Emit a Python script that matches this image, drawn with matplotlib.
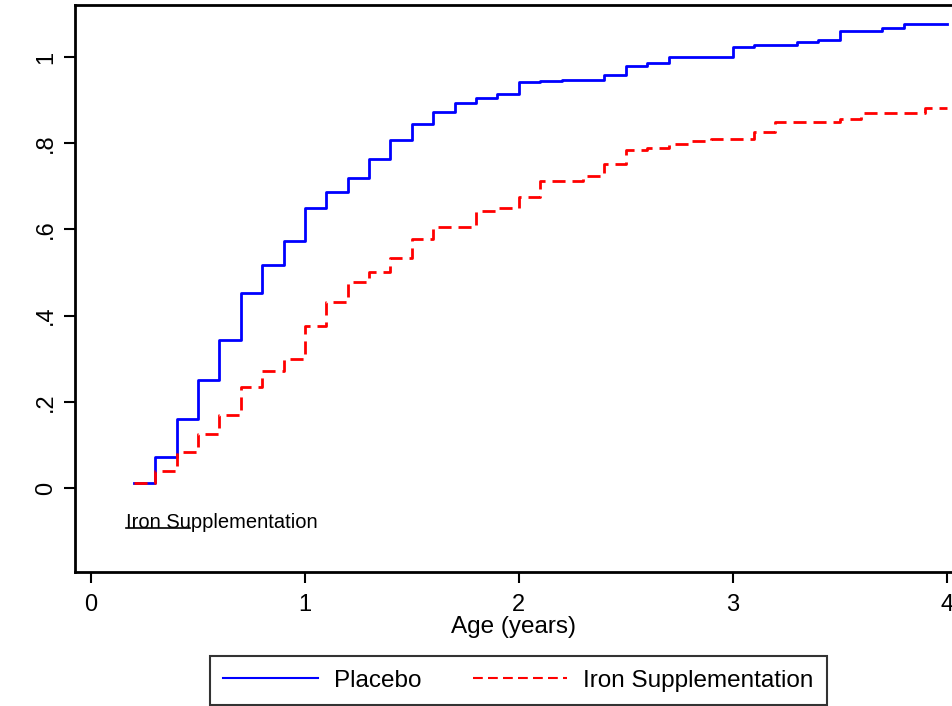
import matplotlib
matplotlib.use("Agg")
import matplotlib.pyplot as plt
from matplotlib import rcParams

rcParams['font.family'] = ['Liberation Sans', 'DejaVu Sans']

# Stepwise cumulative curves
placebo_t = [0.2, 0.3, 0.4, 0.5, 0.6, 0.7, 0.8, 0.9, 1.0, 1.1, 1.2, 1.3, 1.4, 1.5,
             1.6, 1.7, 1.8, 1.9, 2.0, 2.1, 2.2, 2.4, 2.5, 2.6, 2.7, 3.0, 3.1, 3.3,
             3.4, 3.5, 3.7, 3.8, 4.0]
placebo_y = [0.012, 0.072, 0.160, 0.250, 0.343, 0.452, 0.517, 0.573, 0.650, 0.687,
             0.720, 0.763, 0.807, 0.845, 0.872, 0.893, 0.905, 0.914, 0.942, 0.944,
             0.947, 0.958, 0.979, 0.986, 1.001, 1.023, 1.029, 1.035, 1.039, 1.061,
             1.067, 1.078, 1.078]

iron_t = [0.2, 0.3, 0.4, 0.5, 0.6, 0.7, 0.8, 0.9, 1.0, 1.1, 1.2, 1.3, 1.4, 1.5,
          1.6, 1.8, 1.9, 2.0, 2.1, 2.3, 2.4, 2.5, 2.6, 2.7, 2.8, 2.9, 3.1, 3.2,
          3.5, 3.6, 3.9, 4.0]
iron_y = [0.012, 0.040, 0.083, 0.125, 0.169, 0.234, 0.271, 0.299, 0.376, 0.432,
          0.478, 0.501, 0.534, 0.578, 0.606, 0.643, 0.650, 0.675, 0.712, 0.724,
          0.752, 0.784, 0.788, 0.798, 0.805, 0.810, 0.826, 0.849, 0.856, 0.870,
          0.882, 0.882]

x_ticks = [0, 1, 2, 3, 4]
y_ticks = [0, 0.2, 0.4, 0.6, 0.8, 1.0]
y_ticklabels = ['0', '.2', '.4', '.6', '.8', '1']

# stray label left inside the plot area
note_text = 'Iron Supplementation'
note_x, note_y = 0.164, -0.092
note_line_x = [0.164, 0.463]

fig = plt.figure(figsize=(9.53, 7.06), dpi=100)
ax = fig.add_axes([75 / 953, 134 / 706, 1 - 75 / 953, 567 / 706])

ax.step(placebo_t, placebo_y, where='post', color='#0000ff', lw=2, label='Placebo')
ax.step(iron_t, iron_y, where='post', color='#ff0000', lw=2,
        linestyle=(0, (4.7, 2.5)), label='Iron Supplementation')

ax.text(note_x, note_y, note_text, fontsize=14.5, ha='left', va='baseline')
ax.plot(note_line_x, [note_y, note_y], color='black', lw=1.2)

ax.set_xlim(-0.075, 4.03)
ax.set_ylim(-0.195, 1.121)
ax.set_xticks(x_ticks)
ax.set_yticks(y_ticks)
ax.set_yticklabels(y_ticklabels, rotation=90, va='center')
ax.tick_params(direction='out', length=8, width=1.5, labelsize=17)
ax.tick_params(axis='y', pad=5)
ax.tick_params(axis='x', pad=8)
ax.set_xlabel('Age (years)', fontsize=17.5, labelpad=0)

for s in ['left', 'top', 'bottom']:
    ax.spines[s].set_linewidth(2)
ax.spines['right'].set_visible(False)

leg = fig.legend(loc='center', bbox_to_anchor=(0.544, 0.036), ncol=2,
                 fontsize=17.5, frameon=True, fancybox=False, edgecolor='black',
                 handlelength=3.9, handletextpad=0.65, columnspacing=2.1,
                 borderpad=0.55)
leg.get_frame().set_linewidth(1.5)
for h in leg.get_lines():
    h.set_linewidth(1.5)

fig.savefig('out.png', dpi=100)
